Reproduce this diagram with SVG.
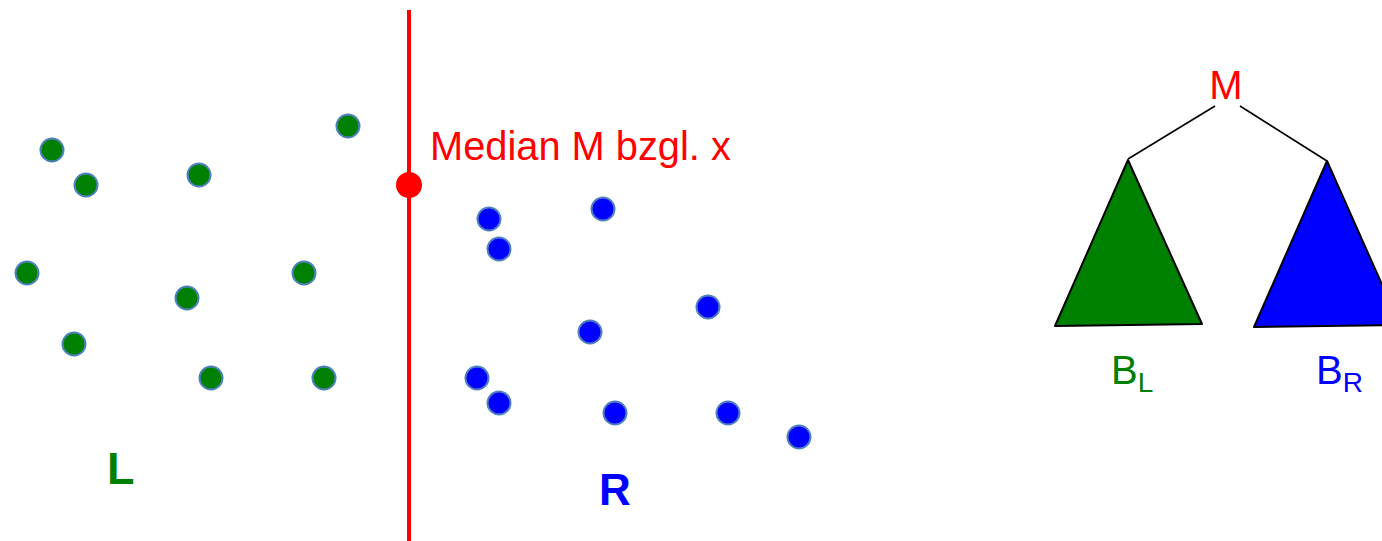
<svg xmlns="http://www.w3.org/2000/svg" width="1382" height="541" viewBox="0 0 1382 541">
<style>
.g{fill:#008000;stroke:#4f81bd;stroke-width:2}
.b{fill:#0000ff;stroke:#4f81bd;stroke-width:2}
.t{font-family:"Liberation Sans",Arial,sans-serif}
.edge{stroke:#000;stroke-width:1.6;fill:none}
</style>
<rect width="1382" height="541" fill="#fff"/>
<g id="median-line">
<line x1="409" y1="10" x2="409" y2="541" stroke="#ff0000" stroke-width="4"/>
<circle cx="409" cy="185" r="13" fill="#ff0000"/>
<text class="t" x="430" y="160" font-size="39.8" fill="#ff0000">Median M bzgl. x</text>
</g>
<g id="left-points">
<circle class="g" cx="348" cy="126" r="11.5"/>
<circle class="g" cx="52" cy="150" r="11.5"/>
<circle class="g" cx="86" cy="185" r="11.5"/>
<circle class="g" cx="199" cy="175" r="11.5"/>
<circle class="g" cx="27" cy="273" r="11.5"/>
<circle class="g" cx="304" cy="273" r="11.5"/>
<circle class="g" cx="187" cy="298" r="11.5"/>
<circle class="g" cx="74" cy="344" r="11.5"/>
<circle class="g" cx="211" cy="378" r="11.5"/>
<circle class="g" cx="324" cy="378" r="11.5"/>
</g>
<g id="right-points">
<circle class="b" cx="489" cy="219" r="11.5"/>
<circle class="b" cx="603" cy="209" r="11.5"/>
<circle class="b" cx="499" cy="249" r="11.5"/>
<circle class="b" cx="708" cy="307" r="11.5"/>
<circle class="b" cx="590" cy="332" r="11.5"/>
<circle class="b" cx="477" cy="378" r="11.5"/>
<circle class="b" cx="499" cy="403" r="11.5"/>
<circle class="b" cx="615" cy="413" r="11.5"/>
<circle class="b" cx="728" cy="413" r="11.5"/>
<circle class="b" cx="799" cy="437" r="11.5"/>
</g>
<g id="label-L"><text class="t" x="107" y="484" font-size="45" font-weight="bold" fill="#008000">L</text></g>
<g id="label-R"><text class="t" x="599" y="505" font-size="44" font-weight="bold" fill="#0000ff">R</text></g>
<g id="connectors">
<line class="edge" x1="1215" y1="106" x2="1128" y2="159"/>
<line class="edge" x1="1240" y1="106" x2="1327" y2="161"/>
</g>
<g id="root-M"><text class="t" x="1226" y="99" font-size="40" fill="#ff0000" text-anchor="middle">M</text></g>
<g id="tree-BL">
<polygon points="1128,160 1055,326 1202,324" fill="#008000" stroke="#000" stroke-width="2" stroke-linejoin="round"/>
<text class="t" x="1111" y="384" font-size="40" fill="#008000">B<tspan font-size="28" dy="8">L</tspan></text>
</g>
<g id="tree-BR">
<polygon points="1327,161 1254,327 1400,325" fill="#0000ff" stroke="#000" stroke-width="2" stroke-linejoin="round"/>
<text class="t" x="1316" y="384" font-size="40" fill="#0000ff">B<tspan font-size="28" dy="8">R</tspan></text>
</g>
</svg>
